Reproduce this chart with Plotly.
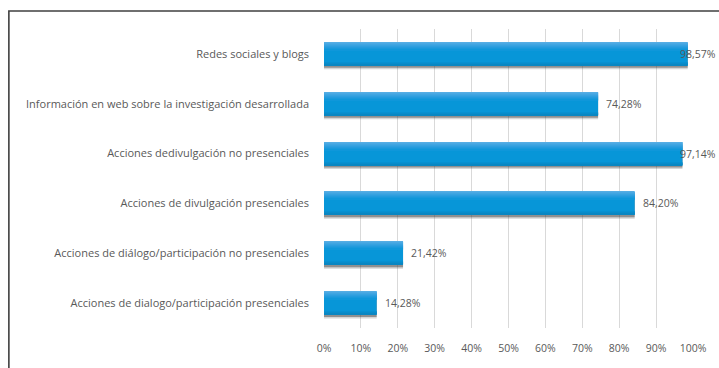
import plotly.graph_objects as go

# Share of respondents per outreach activity (fraction of 1)
categories = [
    "Redes sociales y blogs",
    "Información en web sobre la investigación desarrollada",
    "Acciones dedivulgación no presenciales",
    "Acciones de divulgación presenciales",
    "Acciones de diálogo/participación no presenciales",
    "Acciones de dialogo/participación presenciales",
]
values = [0.9857, 0.7428, 0.9714, 0.8420, 0.2142, 0.1428]
value_labels = ["98,57%", "74,28%", "97,14%", "84,20%", "21,42%", "14,28%"]
tick_vals = [i / 10 for i in range(11)]
tick_text = [f"{i * 10}%" for i in range(11)]

FONT = "Open Sans"
FSIZE = 11
TEXT_COLOR = "#595959"
BAR_W = 0.46
TOP = -BAR_W / 2
STRIP = 0.02  # about one pixel per category unit slice

fig = go.Figure()


def add_layer(color, offset, width):
    fig.add_trace(go.Bar(
        x=values, y=categories, orientation="h",
        marker=dict(color=color, line=dict(width=0)),
        offset=offset, width=width,
        hoverinfo="skip", showlegend=False,
    ))


# soft drop shadow under each bar
add_layer("rgba(90,90,90,0.25)", TOP + 0.08, BAR_W)
add_layer("rgba(60,60,60,0.45)", TOP + 0.05, BAR_W)
# bar body
add_layer("#0796d8", TOP, BAR_W)
# lighter band fading toward the body at the top of each bar
top_shades = ["#55ade4", "#4ba9e3", "#41a5e1", "#37a2e0", "#2d9edf",
              "#239bdd", "#1999db", "#0f97da"]
for i, c in enumerate(top_shades):
    add_layer(c, TOP + i * STRIP, STRIP + 0.002)
# darker lower edge
bottom_shades = ["#0790d1", "#088cca", "#0987c3"]
for i, c in enumerate(bottom_shades):
    add_layer(c, TOP + BAR_W - (len(bottom_shades) - i) * STRIP, STRIP + 0.002)

# value labels beside each bar, held inside the chart near the right edge
for cat, v, lab in zip(categories, values, value_labels):
    if v > 0.95:
        fig.add_annotation(x=1.0, y=cat, text=lab, showarrow=False,
                           xanchor="right", xshift=25,
                           font=dict(family=FONT, size=FSIZE - 0.5, color=TEXT_COLOR))
    else:
        fig.add_annotation(x=v, y=cat, text=lab, showarrow=False,
                           xanchor="left", xshift=6,
                           font=dict(family=FONT, size=FSIZE - 0.5, color=TEXT_COLOR))

# chart frame (top and left edges visible)
fig.add_shape(type="path", xref="paper", yref="paper",
              path="M -0.854 -0.2 L -0.854 1.060 L 1.2 1.060",
              line=dict(color="#404040", width=1.6))

fig.update_layout(
    width=719, height=368,
    margin=dict(l=324, r=24, t=29, b=40),
    paper_bgcolor="white", plot_bgcolor="white",
    barmode="overlay",
    font=dict(family=FONT, size=FSIZE, color=TEXT_COLOR),
    xaxis=dict(range=[0, 1], tickvals=tick_vals, ticktext=tick_text,
               showgrid=True, gridcolor="#d9d9d9", gridwidth=1,
               zeroline=False, showline=False, ticks="",
               ticklabelstandoff=12, fixedrange=True,
               tickfont=dict(size=FSIZE - 0.5)),
    yaxis=dict(autorange="reversed", showgrid=False, zeroline=False,
               showline=False, ticks="", ticklabelstandoff=14,
               fixedrange=True),
)

fig.write_html("out.html")
